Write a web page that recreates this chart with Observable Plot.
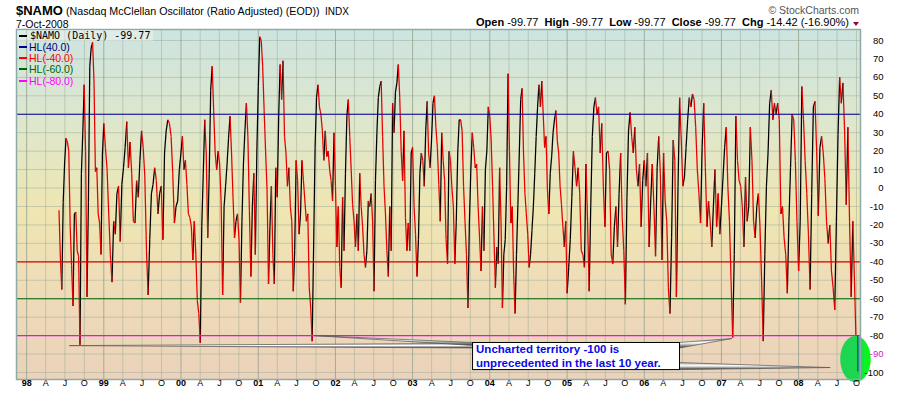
<!DOCTYPE html>
<html><head><meta charset="utf-8">
<script src="https://cdn.jsdelivr.net/npm/d3@7"></script>
<script src="https://cdn.jsdelivr.net/npm/@observablehq/plot@0.6"></script>
<style>
body{margin:0;background:#fff;}
#wrap{position:relative;width:900px;height:396px;overflow:hidden;font-family:"Liberation Sans",Arial,sans-serif;color:#000;}
#chart{position:absolute;left:0;top:0;}
.t{position:absolute;white-space:nowrap;line-height:1;}
.dash{position:absolute;width:8px;height:2px;}
</style></head><body>
<div id="wrap">
  <div id="chart"></div>
  <div class="t" style="left:16px;top:4px;font-size:13px"><span style="font-size:13px;font-weight:bold">$NAMO</span><span style="font-size:10.7px"> (Nasdaq McClellan Oscillator (Ratio Adjusted) (EOD))</span><span style="font-size:10px"> &nbsp;INDX</span></div>
  <div class="t" style="left:16px;top:19px;font-size:10.5px">7-Oct-2008</div>
  <div class="t" style="right:41px;top:5px;font-size:10.5px;color:#555">&copy; StockCharts.com</div>
  <div class="t" style="right:51px;top:17px;font-size:11px"><b>Open</b> -99.77&nbsp;&nbsp;<b>High</b> -99.77&nbsp;&nbsp;<b>Low</b> -99.77&nbsp;&nbsp;<b>Close</b> -99.77&nbsp;&nbsp;<b>Chg</b> -14.42 (-16.90%)</div>
  <div style="position:absolute;left:853px;top:22px;width:0;height:0;border-left:3px solid transparent;border-right:3px solid transparent;border-top:4px solid #990033"></div>
  <div style="position:absolute;left:17px;top:30px;width:136px;height:11px;background:rgba(255,255,255,0.35)"></div>
  <div class="dash" style="left:19px;top:35px;background:#000"></div>
  <div class="t" style="left:30px;top:31px;font-family:'DejaVu Sans Mono',monospace;font-size:10px">$NAMO (Daily) -99.77</div>
  <div class="dash" style="left:19px;top:46px;background:#000080"></div>
  <div class="t" style="left:29px;top:42px;font-size:10.5px;color:#000080">HL(40.0)</div>
  <div class="dash" style="left:19px;top:57px;background:#ff0000"></div>
  <div class="t" style="left:29px;top:53px;font-size:10.5px;color:#ff0000">HL(-40.0)</div>
  <div class="dash" style="left:19px;top:68px;background:#006400"></div>
  <div class="t" style="left:29px;top:64px;font-size:10.5px;color:#006400">HL(-60.0)</div>
  <div class="dash" style="left:19px;top:80px;background:#ff00ff"></div>
  <div class="t" style="left:29px;top:76px;font-size:10.5px;color:#ff00ff">HL(-80.0)</div>
</div>
<script>
// ---- Data: $NAMO readings, grouped by calendar year ----
const v1998 = [-12,-38,-55,-8,13,27,25,20,-21,-42,-64,-14,-13,-34,-37,-85,8,30,56,20,-59,-8,66,76,79,58,9,11,-14,-19,-36,18];
const v1999 = [35,22,10,-14,-36,-51,-18,-25,-3,1,-29,2,11,22,36,11,25,8,-18,-19,4,-5,15,31,22,6,-34,-58,-28,-3,2,11,4,-14,-3,1,-28,19,31,37,35,28,8,-19,-10,-7,10];
const v2000 = [19,28,10,15,2,-14,-16,-21,-39,-18,-36,-61,-68,-84,-21,8,37,19,-27,8,53,66,42,19,10,20,13,-7,-58,-10,1,13,27,39,19,-5,-27,-18,-14,-27,-62,-18,13,31,46,28,-12,-48,-10,8,-36,19];
const v2001 = [55,82,80,66,42,20,-1,-52,-21,1,-36,-52,11,-5,39,67,48,69,28,19,1,11,-10,-18,-56,-34,15,4,-25,-14,15,4,-7,-18,-14,-54,-65,-83,-32,22,49,56,44,40,31,15,31,17,20,10,4,-7,30];
const v2002 = [1,-32,-10,-43,-54,-5,-34,8,39,48,28,10,-9,-18,-32,-14,-34,8,-10,-21,-36,-43,-34,-7,-10,-3,-18,-56,4,30,49,55,58,28,1,-14,-34,-48,-10,-34,46,30,52,57,67,49,20,4,31,-16,-34,-19,-34,19];
const v2003 = [22,-10,-25,-48,-28,8,19,15,1,31,47,19,11,26,46,50,33,22,2,-18,30,15,4,-28,-41,20,15,0,-10,-41,-18,19,37,37,31,1,-18,-36,-65,-19,10,30,22,11,13,-10,-27,-45,-10,-34,10,20,44];
const v2004 = [39,26,1,-27,-54,-32,-41,11,-18,-65,-36,-28,1,62,20,-19,-10,-47,-68,-36,-9,19,48,54,19,-3,-14,-25,-43,-36,-23,-10,8,28,44,56,44,58,40,22,28,-1,-14,8,17,30,37,42,26,19,1,-9,-21,-32,-18];
const v2005 = [-57,-43,-28,-5,20,11,1,11,-3,-34,-36,-43,13,-18,-56,-10,28,44,49,40,44,19,35,1,-21,19,20,10,-36,-41,-21,-10,-32,-3,19,-16,-34,-63,-5,31,41,28,19,33,10,1,13,-21,4];
const v2006 = [15,1,19,-32,-7,13,-10,-37,11,28,8,-39,19,-7,-18,-54,-68,-27,26,15,-59,1,49,26,1,6,22,37,49,44,51,48,33,10,-3,-19,22,46,11,-21,-7,-18,-32,-10,10,-21,-3,-25];
const v2007 = [-10,6,22,33,1,-18,-50,-81,-36,39,15,4,1,-10,-32,6,-18,-10,33,15,-18,-27,-10,-3,-21,-50,-83,-36,1,19,46,53,37,46,40,46,37,-14,-10,-27,-36,-57,-18,11,40,37,15,-18];
const v2008 = [-45,-18,55,37,15,-3,-25,-55,-3,44,47,20,-15,22,28,19,5,-18,-30,-20,-45,-54,-66,-18,29,60,46,57,31,-9,33,-18,-59,-18,-50,-85.35,-99.77];

const seriesStart = "1998-06-03";
const seriesEnd = "2008-10-07";
const yearArrays = [[1998,v1998],[1999,v1999],[2000,v2000],[2001,v2001],[2002,v2002],[2003,v2003],[2004,v2004],[2005,v2005],[2006,v2006],[2007,v2007],[2008,v2008]];

// Horizontal reference lines
const hlLevels = [40, -40, -60, -80];
const hlColors = ["#000090", "#e00000", "#006400", "#ff00ff"];

// Axis ticks
const yTicks = [80,70,60,50,40,30,20,10,0,-10,-20,-30,-40,-50,-60,-70,-80,-90,-100];
const quarterMonths = [0, 3, 6, 9];
const monthLetters = ["", "A", "J", "O"];
const tickYears = [1998,1999,2000,2001,2002,2003,2004,2005,2006,2007,2008];

// Annotation (in data space)
const calloutText = "Uncharted territory -100 is\nunprecedented in the last 10 year.";
const calloutBox = {x1: "2003-10-14", x2: "2006-06-19", y1: -84, y2: -98.7};
const wedges = [
  {id: "a", tip: ["1998-07-26", -85.7], baseDate: "2003-10-14", base: [-84.5, -87]},
  {id: "b", tip: ["2001-09-27", -80.3], baseDate: "2003-10-14", base: [-84, -85.6]},
  {id: "c", tip: ["2007-02-20", -81.9], baseDate: "2006-06-19", base: [-84, -87]},
  {id: "d", tip: ["2008-05-30", -97.6], baseDate: "2006-06-19", base: [-94.9, -98.7]}
];
const focus = {date: "2008-09-26", value: -92.7, rxDays: 72, ry: 12.5};

// ---- Build tables ----
const D = s => new Date(s + "T00:00:00Z");
const series = [];
for (const [yr, vals] of yearArrays) {
  const start = yr === 1998 ? +D(seriesStart) : Date.UTC(yr, 0, 1);
  const end = yr === 2008 ? +D(seriesEnd) : Date.UTC(yr + 1, 0, 1);
  const n = vals.length;
  vals.forEach((v, i) => {
    const f = yr === 2008 ? i / (n - 1) : i / n;
    series.push({date: new Date(start + f * (end - start)), value: v});
  });
}
const links = series.slice(1).map((d, i) => ({
  x1: series[i].date, y1: series[i].value, x2: d.date, y2: d.value, up: d.value >= series[i].value
}));
const last = series[series.length - 1];

const xStart = new Date(Date.UTC(1997, 10, 14));
const xEnd = new Date(Date.UTC(2008, 9, 20));

const quarters = [];
for (const y of tickYears) for (const m of quarterMonths) {
  const d = new Date(Date.UTC(y, m, 1));
  if (d <= xEnd) quarters.push({date: d, m, y, label: m === 0 ? String(y).slice(2) : monthLetters[m / 3]});
}

const wedgePts = wedges.flatMap(w => [
  {id: w.id, x: D(w.tip[0]), y1: w.tip[1], y2: w.tip[1]},
  {id: w.id, x: D(w.baseDate), y1: w.base[0], y2: w.base[1]}
]);
const ellipsePts = d3.range(0, 361, 5).map(a => ({
  x: new Date(+D(focus.date) + focus.rxDays * 864e5 * Math.cos(a * Math.PI / 180)),
  y: focus.value + focus.ry * Math.sin(a * Math.PI / 180)
}));

const font = "'Liberation Sans', Arial, sans-serif";

const svg = Plot.plot({
  width: 900, height: 396,
  marginTop: 29, marginRight: 40, marginBottom: 17, marginLeft: 16,
  style: {background: "transparent", fontFamily: font, overflow: "visible"},
  x: {type: "utc", domain: [xStart, xEnd], axis: null},
  y: {domain: [-103.8, 85.96], axis: null},
  marks: [
    Plot.frame({fill: "url(#bgG)", stroke: "none"}),
    Plot.ruleY(yTicks, {stroke: "#9fab98", strokeOpacity: 0.5, strokeWidth: 1}),
    Plot.ruleX(quarters.filter(q => q.m !== 0), {x: "date", stroke: "#9fab98", strokeOpacity: 0.5, strokeWidth: 1}),
    Plot.ruleX(quarters.filter(q => q.m === 0), {x: "date", stroke: "#93a08f", strokeOpacity: 0.8, strokeWidth: 1}),
    Plot.link(links.filter(d => d.up), {x1: "x1", y1: "y1", x2: "x2", y2: "y2", stroke: "#000", strokeWidth: 1.25}),
    Plot.link(links.filter(d => !d.up), {x1: "x1", y1: "y1", x2: "x2", y2: "y2", stroke: "#e60000", strokeWidth: 1.25}),
    ...hlLevels.map((lv, i) => Plot.ruleY([lv], {stroke: hlColors[i], strokeWidth: 1.1})),
    Plot.area(wedgePts, {x1: "x", y1: "y1", y2: "y2", z: "id", fill: "url(#wedgeG)", stroke: "#555", strokeWidth: 0.7}),
    Plot.rect([calloutBox], {x1: d => D(d.x1), x2: d => D(d.x2), y1: "y1", y2: "y2", fill: "#fff", stroke: "#000", strokeWidth: 1}),
    Plot.text([calloutBox], {x: d => D(d.x1), y: "y1", text: () => calloutText, textAnchor: "start", lineAnchor: "top", lineHeight: 1.22, dx: 3, dy: 0, fontSize: 11.5, fontWeight: "bold", fill: "#0a0ae8"}),
    Plot.line(ellipsePts, {x: "x", y: "y", fill: "url(#ellG)", stroke: "none"}),
    Plot.ruleX([last], {x: "date", y1: hlLevels[3], y2: "value", stroke: "#2244cc", strokeWidth: 1.4}),
    Plot.frame({stroke: "#8eaaa8", strokeWidth: 1.5}),
    Plot.text(yTicks.filter(t => t !== -90), {y: d => d, text: d => String(d), frameAnchor: "right", textAnchor: "end", dx: 23, fontSize: 9.5, fill: "#000"}),
    Plot.text(yTicks.filter(t => t === -90), {y: d => d, text: d => String(d), frameAnchor: "right", textAnchor: "end", dx: 23, fontSize: 9.5, fill: "#d020d0"}),
    Plot.text(quarters.filter(q => q.m === 0), {x: "date", text: "label", frameAnchor: "bottom", dy: 6.5, fontSize: 9, fontWeight: "bold", fill: "#000"}),
    Plot.text(quarters.filter(q => q.m !== 0), {x: "date", text: "label", frameAnchor: "bottom", dy: 6.5, fontSize: 9, fill: "#000"})
  ]
});

const defs = d3.select(svg).insert("defs", ":first-child");
const bg = defs.append("linearGradient").attr("id", "bgG").attr("x1", 0).attr("y1", 0).attr("x2", 0).attr("y2", 1);
[[0, "#cde4e0"], [0.28, "#dfe7cb"], [0.52, "#efe6b2"], [0.78, "#eedab8"], [1, "#ebd2bb"]]
  .forEach(([o, c]) => bg.append("stop").attr("offset", o).attr("stop-color", c));
const wg = defs.append("linearGradient").attr("id", "wedgeG").attr("x1", 0).attr("y1", 0).attr("x2", 0).attr("y2", 1);
[[0, "#a8a8a8"], [0.45, "#ffffff"], [1, "#333333"]]
  .forEach(([o, c]) => wg.append("stop").attr("offset", o).attr("stop-color", c));
const eg = defs.append("linearGradient").attr("id", "ellG").attr("x1", 0).attr("y1", 0).attr("x2", 1).attr("y2", 0);
[[0, "#1fd452"], [0.68, "#1ad84d"], [0.8, "#0cf030"], [1, "#00ff00"]]
  .forEach(([o, c]) => eg.append("stop").attr("offset", o).attr("stop-color", c));

document.getElementById("chart").appendChild(svg);
</script>
</body></html>
